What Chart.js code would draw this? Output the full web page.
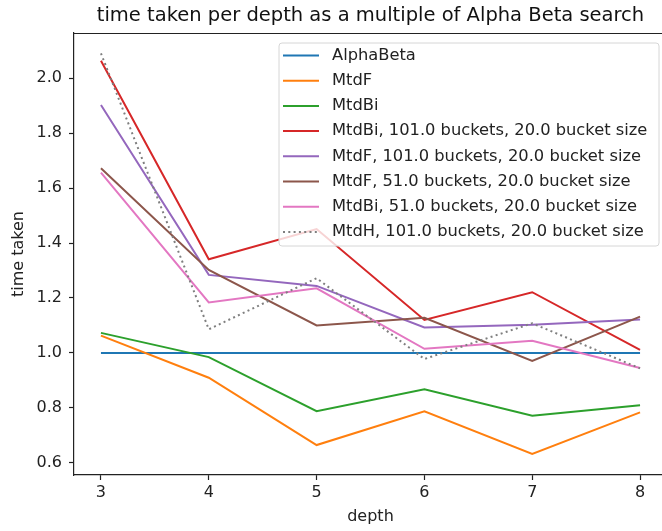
<!DOCTYPE html>
<html>
<head>
<meta charset="utf-8">
<script src="https://cdn.jsdelivr.net/npm/chart.js@4.4.1/dist/chart.umd.min.js"></script>
<style>
  html, body { margin: 0; padding: 0; background: #fff; overflow: hidden; width: 662px; height: 531px; }
  #wrap { width: 662px; height: 531px; overflow: hidden; }
  #chart { display: block; }
</style>
</head>
<body>
<div id="wrap"><canvas id="chart" width="700" height="531"></canvas></div>
<script>
const depths = [3, 4, 5, 6, 7, 8];
const xTicks = [3, 4, 5, 6, 7, 8];
const yTicks = [0.6, 0.8, 1.0, 1.2, 1.4, 1.6, 1.8, 2.0];

const seriesNames = [
  'AlphaBeta',
  'MtdF',
  'MtdBi',
  'MtdBi, 101.0 buckets, 20.0 bucket size',
  'MtdF, 101.0 buckets, 20.0 bucket size',
  'MtdF, 51.0 buckets, 20.0 bucket size',
  'MtdBi, 51.0 buckets, 20.0 bucket size',
  'MtdH, 101.0 buckets, 20.0 bucket size'
];
const alphaBeta = [1.0, 1.0, 1.0, 1.0, 1.0, 1.0];
const mtdF = [1.063, 0.910, 0.665, 0.788, 0.633, 0.784];
const mtdBi = [1.073, 0.985, 0.788, 0.868, 0.772, 0.810];
const mtdBi101 = [2.063, 1.341, 1.451, 1.120, 1.221, 1.011];
const mtdF101 = [1.902, 1.284, 1.244, 1.093, 1.103, 1.122];
const mtdF51 = [1.672, 1.302, 1.100, 1.128, 0.971, 1.132];
const mtdBi51 = [1.656, 1.184, 1.235, 1.015, 1.044, 0.945];
const mtdH101 = [2.090, 1.086, 1.272, 0.978, 1.108, 0.944];

const seriesValues = [alphaBeta, mtdF, mtdBi, mtdBi101, mtdF101, mtdF51, mtdBi51, mtdH101];
const colors = ['#1f77b4', '#ff7f0e', '#2ca02c', '#d62728', '#9467bd', '#8c564b', '#e377c2', '#7f7f7f'];

const FONT = '"DejaVu Sans", "Liberation Sans", sans-serif';

const datasets = seriesValues.map((vals, i) => ({
  label: seriesNames[i],
  data: vals.map((v, j) => ({ x: depths[j], y: v })),
  borderColor: colors[i],
  backgroundColor: colors[i],
  borderWidth: 2,
  borderDash: i === 7 ? [2, 3.3] : [],
  pointRadius: 0,
  tension: 0,
  fill: false,
  order: seriesValues.length - 1 - i
}));

// title, top spine and an inside legend like matplotlib
const decorPlugin = {
  id: 'decor',
  afterDraw(chart) {
    const ctx = chart.ctx;
    const a = chart.chartArea;
    ctx.save();

    ctx.strokeStyle = '#222';
    ctx.lineWidth = 1.2;
    ctx.beginPath();
    ctx.moveTo(a.left, a.top + 0.5);
    ctx.lineTo(a.right, a.top + 0.5);
    ctx.stroke();

    ctx.fillStyle = '#111';
    ctx.font = '19.5px ' + FONT;
    ctx.textAlign = 'center';
    ctx.textBaseline = 'middle';
    ctx.fillText('time taken per depth as a multiple of Alpha Beta search', (a.left + a.right) / 2, 16);

    // legend box
    const bx = 279, by = 43, bw = 380, bh = 203, r = 3;
    ctx.beginPath();
    ctx.moveTo(bx + r, by);
    ctx.arcTo(bx + bw, by, bx + bw, by + bh, r);
    ctx.arcTo(bx + bw, by + bh, bx, by + bh, r);
    ctx.arcTo(bx, by + bh, bx, by, r);
    ctx.arcTo(bx, by, bx + bw, by, r);
    ctx.closePath();
    ctx.fillStyle = 'rgba(255,255,255,0.8)';
    ctx.fill();
    ctx.strokeStyle = '#d6d6d6';
    ctx.lineWidth = 1;
    ctx.stroke();

    ctx.font = '16.3px ' + FONT;
    ctx.textAlign = 'left';
    ctx.textBaseline = 'middle';
    chart.data.datasets.forEach((ds, i) => {
      const y = 55.5 + i * 25.2;
      ctx.strokeStyle = ds.borderColor;
      ctx.lineWidth = 2;
      ctx.setLineDash(ds.borderDash || []);
      ctx.beginPath();
      ctx.moveTo(283, y);
      ctx.lineTo(319, y);
      ctx.stroke();
      ctx.setLineDash([]);
      ctx.fillStyle = '#222';
      ctx.fillText(ds.label, 332, y);
    });
    ctx.restore();
  }
};

new Chart(document.getElementById('chart'), {
  type: 'line',
  data: { datasets },
  plugins: [decorPlugin],
  options: {
    responsive: false,
    animation: false,
    layout: { padding: { top: 33, right: 33, left: 0, bottom: 0 } },
    plugins: {
      legend: { display: false },
      title: { display: false },
      tooltip: { enabled: false }
    },
    scales: {
      x: {
        type: 'linear',
        min: 2.75,
        max: 8.25,
        afterBuildTicks: scale => { scale.ticks = xTicks.map(v => ({ value: v })); },
        afterFit: scale => { scale.height = 56; },
        grid: { display: true, drawOnChartArea: false, drawTicks: true, tickLength: 5, color: '#222', tickWidth: 1.2 },
        border: { display: true, color: '#222', width: 1.2 },
        ticks: {
          autoSkip: false,
          maxRotation: 0,
          padding: 3,
          color: '#222',
          font: { family: FONT, size: 16 },
          callback: v => String(v)
        },
        title: {
          display: true,
          text: 'depth',
          color: '#222',
          font: { family: FONT, size: 16 },
          padding: { top: 0, bottom: 4.5 }
        }
      },
      y: {
        type: 'linear',
        min: 0.556,
        max: 2.164,
        afterBuildTicks: scale => { scale.ticks = yTicks.map(v => ({ value: v })); },
        afterFit: scale => { scale.width = 74; },
        grid: { display: true, drawOnChartArea: false, drawTicks: true, tickLength: 5, color: '#222', tickWidth: 1.2 },
        border: { display: true, color: '#222', width: 1.2 },
        ticks: {
          autoSkip: false,
          padding: 7,
          color: '#222',
          font: { family: FONT, size: 16 },
          callback: v => Number(v).toFixed(1)
        },
        title: {
          display: true,
          text: 'time taken',
          color: '#222',
          font: { family: FONT, size: 16 },
          padding: { top: 9.5, bottom: 0 }
        }
      }
    }
  }
});
</script>
</body>
</html>
